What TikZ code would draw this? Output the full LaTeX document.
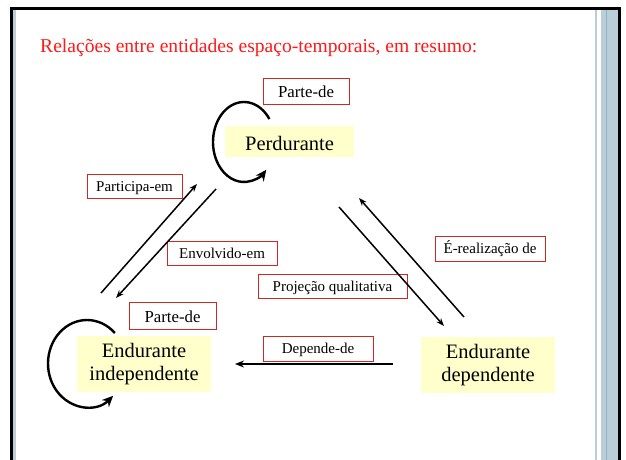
\documentclass[tikz,border=0pt]{standalone}
\usepackage{fontspec}
\setmainfont{Liberation Serif}
\usetikzlibrary{arrows.meta}
\definecolor{boxred}{RGB}{204,40,40}
\definecolor{boxyellow}{RGB}{255,255,204}
\definecolor{stripblue}{RGB}{187,206,216}
\definecolor{stripdark}{RGB}{140,178,200}
\definecolor{titlered}{RGB}{255,25,25}
\begin{document}
\begin{tikzpicture}[x=1pt,y=1pt,
  lbl/.style={draw=boxred, line width=1pt, fill=white, inner sep=0pt,
    text height=11pt, text depth=1pt, font=\fontsize{15}{18}\selectfont},
  partlbl/.style={lbl, text height=13pt, text depth=0pt, font=\fontsize{16.8}{19}\selectfont},
  big/.style={fill=boxyellow, inner sep=0pt, align=center,
    font=\fontsize{20.5}{23}\selectfont},
  rel/.style={line width=1.5pt, -{Stealth[length=8pt,width=6pt]}},
  relthick/.style={line width=2.3pt, -{Stealth[length=9pt,width=7pt]}},
  selfloop/.style={line width=2.4pt, -{Stealth[length=11pt,width=10pt]}}]
\useasboundingbox (0,0) rectangle (626,-460);
% frame
\fill[black] (10,-6.7) rectangle (621,-460);
\fill[white] (13.3,-10) rectangle (618.3,-460);
\fill[stripblue] (13.3,-10) rectangle (16,-460);
\fill[stripblue] (595,-10) rectangle (597.3,-460);
\fill[stripblue] (600.7,-10) rectangle (618.3,-460);
\fill[stripdark] (605.7,-10) rectangle (606.7,-460);
% title
\node[anchor=base west, inner sep=0pt, text=titlered] (title) at (40,-53)
  {\resizebox{437pt}{!}{\fontsize{19}{22}\selectfont Relações entre entidades espaço-temporais, em resumo:}};
% main nodes
\node[big, minimum width=129pt, minimum height=31pt, text height=17pt, text depth=0pt] (perd) at (289.5,-141.5) {Perdurante};
\node[big, minimum width=134pt, minimum height=56pt] (ei) at (144,-364) {Endurante\\independente};
\node[big, minimum width=134pt, minimum height=56pt] (ed) at (488,-365) {Endurante\\dependente};
% labels
\node[partlbl, minimum width=86pt, minimum height=26pt] (parte1) at (306,-91) {Parte-de};
\node[lbl, minimum width=95pt, minimum height=24pt] (participa) at (134.5,-186) {Participa-em};
\node[lbl, minimum width=110pt, minimum height=24pt] (envolvido) at (222,-253) {Envolvido-em};
\node[partlbl, minimum width=87pt, minimum height=27pt] (parte2) at (172.5,-315.5) {Parte-de};
\node[lbl, minimum width=149pt, minimum height=24pt] (projecao) at (332.5,-286) {Projeção qualitativa};
\node[lbl, minimum width=110pt, minimum height=25pt] (erealiz) at (490,-248.5) {É-realização de};
\node[lbl, minimum width=110pt, minimum height=25pt] (depende) at (318,-348.5) {Depende-de};
% arrow end points
\coordinate (pA) at (101,-293); \coordinate (pB) at (197,-184);
\coordinate (eA) at (216,-189); \coordinate (eB) at (116,-298);
\coordinate (qA) at (339,-207); \coordinate (qB) at (444,-326);
\coordinate (rA) at (464,-317); \coordinate (rB) at (359,-198);
\coordinate (dA) at (393,-364); \coordinate (dB) at (235,-364);
% connectors
\draw[rel] (pA) -- (pB);
\draw[rel] (eA) -- (eB);
\draw[rel] (qA) -- (qB);
\draw[rel] (rA) -- (rB);
\draw[relthick] (dA) -- (dB);
% self loops
\coordinate (loopPc) at (244,-142);
\coordinate (loopEc) at (87,-363.5);
\draw[selfloop] ([shift={(35:31 and 40)}]loopPc) arc[start angle=35, end angle=316, x radius=31, y radius=40];
\draw[selfloop] ([shift={(44.5:39 and 43.5)}]loopEc) arc[start angle=44.5, end angle=312, x radius=39, y radius=43.5];
\end{tikzpicture}
\end{document}
